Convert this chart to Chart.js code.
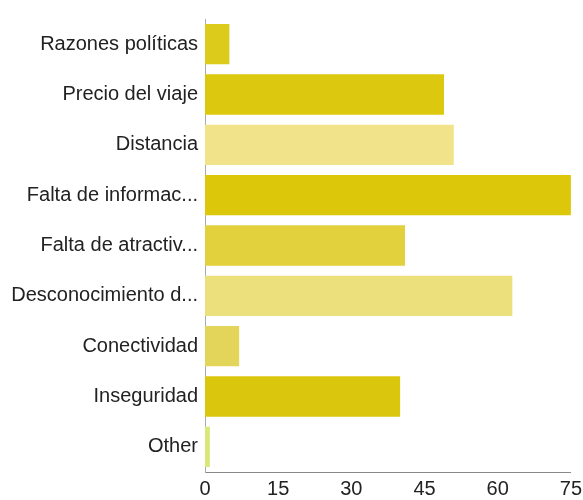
<!DOCTYPE html>
<html>
<head>
<meta charset="utf-8">
<script src="https://cdn.jsdelivr.net/npm/chart.js@4"></script>
<style>
  html, body { margin: 0; padding: 0; background: #fff; }
  #wrap { width: 583px; height: 500px; }
</style>
</head>
<body>
<div id="wrap"><canvas id="chart-motivos"></canvas></div>
<script>
// Motivos por los que no se viaja (respuestas)
const motivos = [
  'Razones políticas',
  'Precio del viaje',
  'Distancia',
  'Falta de informac...',
  'Falta de atractiv...',
  'Desconocimiento d...',
  'Conectividad',
  'Inseguridad',
  'Other'
];
const respuestas = [5, 49, 51, 75, 41, 63, 7, 40, 1];
const coloresBarra = [
  '#ddcb1c', '#dcc80e', '#f1e38a', '#dcc70a', '#e2d03c',
  '#ece07c', '#e3d45a', '#dac60c', '#d9e878'
];
const ticksX = [0, 15, 30, 45, 60, 75];

const fuente = { family: 'Liberation Sans, Arial, sans-serif', size: 20 };

let chartMotivos = null;

function initChart() {
  const ctx = document.getElementById('chart-motivos');
  if (chartMotivos) chartMotivos.destroy();

  chartMotivos = new Chart(ctx, {
    type: 'bar',
    data: {
      labels: motivos,
      datasets: [{
        data: respuestas,
        backgroundColor: coloresBarra,
        borderWidth: 0,
        barPercentage: 0.8,
        categoryPercentage: 1.0,
      }]
    },
    options: {
      indexAxis: 'y',
      responsive: true,
      maintainAspectRatio: false,
      animation: false,
      layout: { padding: { top: 19, right: 11, bottom: 0, left: 0 } },
      plugins: {
        legend: { display: false },
        tooltip: { enabled: false },
      },
      scales: {
        x: {
          min: 0,
          max: 75,
          afterBuildTicks: axis => { axis.ticks = ticksX.map(v => ({ value: v })); },
          afterFit: axis => { axis.height = 28; },
          grid: { display: false, drawTicks: true, tickLength: 4 },
          border: { display: true, color: '#888', width: 1 },
          ticks: {
            color: '#222',
            font: fuente,
            padding: 1,
            maxRotation: 0,
          },
        },
        y: {
          afterFit: axis => { axis.width = 205; },
          grid: { display: false, drawTicks: true, tickLength: 4 },
          border: { display: true, color: '#aaa', width: 1 },
          ticks: {
            color: '#222',
            font: fuente,
            padding: 3,
          },
        },
      }
    }
  });
}

document.addEventListener('DOMContentLoaded', initChart);
</script>
</body>
</html>
